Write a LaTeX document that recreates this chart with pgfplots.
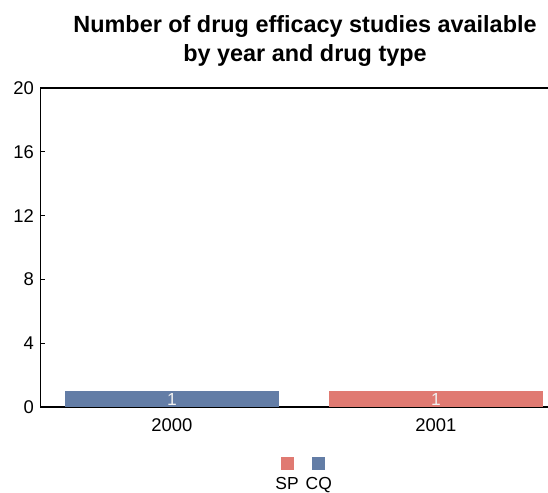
\documentclass[border=0pt]{standalone}
\usepackage{pgfplots}
\pgfplotsset{compat=1.18}
\usepackage{fontspec}
\setmainfont{Liberation Sans}
\definecolor{spcol}{HTML}{E07A72}
\definecolor{cqcol}{HTML}{637DA6}
\begin{document}
\begin{tikzpicture}
\begin{axis}[
  scale only axis, width=508bp, height=319bp,
  at={(0,0)}, anchor=south west,
  xmin=-0.5, xmax=1.425, ymin=0, ymax=20,
  ytick={0,4,8,12,16,20},
  xtick={0,1}, xticklabels={2000,2001},
  axis x line=box, axis y line=left,
  x axis line style={-, line width=1.2bp, black},
  y axis line style={-, line width=1bp, black},
  major x tick style={draw=none},
  y tick style={black, line width=0.8bp},
  major tick length=5bp,
  tick align=inside,
  /pgf/number format/assume math mode=true,
  /pgf/number format/1000 sep={},
  ticklabel style={font=\fontsize{18.5}{20}\selectfont},
  yticklabel style={xshift=-2.5bp},
  xticklabel style={yshift=-3bp},
  title={Number of drug efficacy studies available\\by year and drug type},
  title style={at={(0.5217,1)}, anchor=south, yshift=15.5bp, inner sep=0pt, align=center, font=\bfseries\fontsize{23.5}{28.5}\selectfont},
  ybar, bar width=214bp, bar shift=0pt,
  nodes near coords,
  nodes near coords style={anchor=center, yshift=-8bp, text=white!94!black, font=\fontsize{17.5}{18}\selectfont},
  legend style={draw=none, fill=none, at={(0.519,0)}, anchor=north, yshift=-46bp, font=\fontsize{17.5}{17}\selectfont, /tikz/every even column/.append style={column sep=3bp}},
  legend columns=2,
  legend image code/.code={},
]
\addplot[fill=spcol, draw=none] coordinates {(1,1)};
\addlegendentry{\shortstack{{\color{spcol}\rule{13bp}{13bp}}\\[4bp]SP}}
\addplot[fill=cqcol, draw=none] coordinates {(0,1)};
\addlegendentry{\shortstack{{\color{cqcol}\rule{13bp}{13bp}}\\[4bp]CQ}}
\end{axis}
\pgfresetboundingbox
\path (-40bp,-86bp) rectangle (508bp,407bp);
\end{tikzpicture}
\end{document}
